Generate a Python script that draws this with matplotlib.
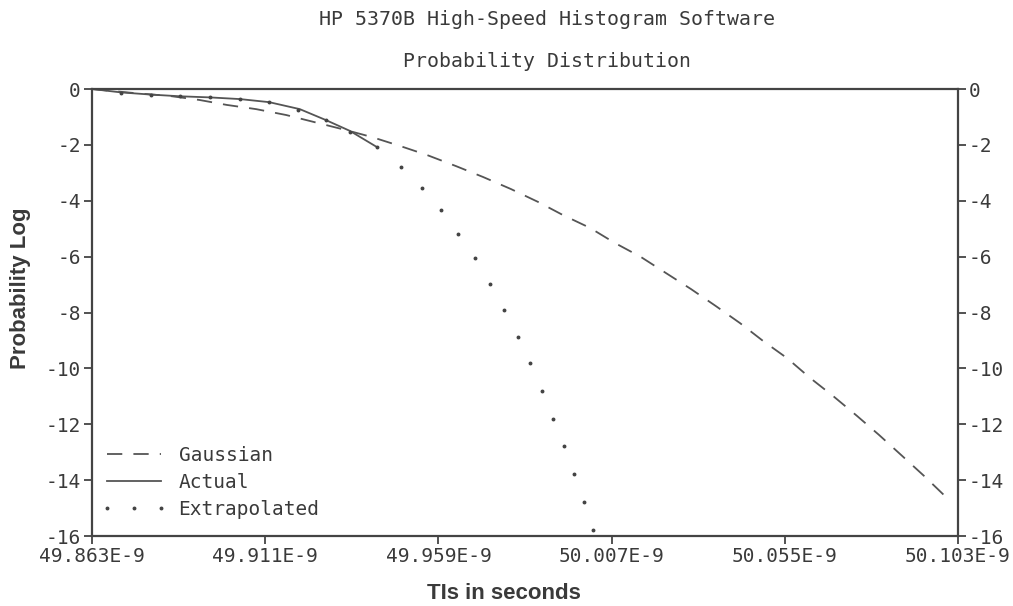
import matplotlib
matplotlib.use("Agg")
import matplotlib.pyplot as plt
from matplotlib.lines import Line2D

# time in ns, probability as log10
gauss_x = [49.8630, 49.8735, 49.8846, 49.8927, 49.9004, 49.9085, 49.9168, 49.9245,
           49.9334, 49.9406, 49.9484, 49.9558, 49.9639, 49.9714, 49.9791, 49.9866,
           49.9935, 50.0010, 50.0079, 50.0151, 50.0221, 50.0290, 50.0359, 50.0426,
           50.0490, 50.0556, 50.0620, 50.0684, 50.0750, 50.0811, 50.0875, 50.0936,
           50.0994, 50.1008]
gauss_y = [0.0, -0.13, -0.25, -0.39, -0.57, -0.72, -0.93, -1.18,
           -1.47, -1.72, -2.04, -2.36, -2.76, -3.15, -3.58, -4.04,
           -4.51, -4.97, -5.51, -6.01, -6.59, -7.16, -7.77, -8.38,
           -9.02, -9.63, -10.34, -10.99, -11.70, -12.38, -13.13, -13.85,
           -14.57, -14.71]

actual_x = [49.8630, 49.8710, 49.8794, 49.8874, 49.8957, 49.9040, 49.9121,
            49.9206, 49.9278, 49.9345, 49.9420]
actual_y = [0.0, -0.12, -0.20, -0.26, -0.30, -0.36, -0.47, -0.72, -1.11, -1.50, -2.08]

extrap_x = [49.8710, 49.8794, 49.8874, 49.8957, 49.9040, 49.9121, 49.9201, 49.9278,
            49.9345, 49.9420, 49.9486, 49.9544, 49.9596, 49.9645, 49.9691, 49.9734,
            49.9772, 49.9810, 49.9845, 49.9877, 49.9908, 49.9938, 49.9967, 49.9993,
            50.0019]
extrap_y = [-0.15, -0.22, -0.26, -0.28, -0.35, -0.46, -0.75, -1.11,
            -1.55, -2.08, -2.78, -3.53, -4.33, -5.18, -6.06, -6.97,
            -7.91, -8.87, -9.82, -10.81, -11.80, -12.79, -13.78, -14.79,
            -15.78]

x_ticks = [49.863, 49.911, 49.959, 50.007, 50.055, 50.103]
x_labels = ["49.863E-9", "49.911E-9", "49.959E-9", "50.007E-9", "50.055E-9", "50.103E-9"]
y_ticks = [0, -2, -4, -6, -8, -10, -12, -14, -16]
y_labels = ["0", "-2", "-4", "-6", "-8", "-10", "-12", "-14", "-16"]

plt.rcParams['axes.unicode_minus'] = False
plt.rcParams['lines.scale_dashes'] = False

ink = '#3a3a3a'
mono = 'DejaVu Sans Mono'

fig = plt.figure(figsize=(10.13, 6.06), dpi=100)
ax = fig.add_axes([0.0908, 0.1155, 0.8549, 0.7376])

ax.plot(gauss_x, gauss_y, color='#555555', lw=1.3, dashes=(11, 8), label='Gaussian')
ax.plot(actual_x, actual_y, color='#555555', lw=1.3, label='Actual')
ax.plot(extrap_x, extrap_y, ls='none', marker='o', ms=1.8, color='#444444', label='Extrapolated')

ax.set_xlim(x_ticks[0], x_ticks[-1])
ax.set_ylim(-16, 0)
ax.set_xticks(x_ticks)
ax.set_xticklabels(x_labels)
ax.set_yticks(y_ticks)
ax.set_yticklabels(y_labels)

for s in ax.spines.values():
    s.set_color('#444444')
    s.set_linewidth(1.6)

ax.tick_params(axis='both', direction='out', length=6, width=1.3, color='#444444',
               labelcolor=ink, labelsize=14, pad=2)
ax.tick_params(axis='y', right=True, labelright=True)
for lab in ax.get_xticklabels() + ax.get_yticklabels():
    lab.set_family(mono)

ax.set_xlabel('TIs in seconds', fontsize=16, fontweight='bold', color=ink,
              family='Liberation Sans')
ax.set_ylabel('Probability Log', fontsize=16, fontweight='bold', color=ink,
              family='Liberation Sans')
ax.xaxis.set_label_coords(0.476, -0.128)
ax.yaxis.set_label_coords(-0.083, 0.555)
ax.xaxis.label.set_va('center')
ax.yaxis.label.set_va('center')

fig.text(0.54, 0.968, 'HP 5370B High-Speed Histogram Software', ha='center', va='center',
         fontsize=14.3, family=mono, color=ink)
fig.text(0.54, 0.898, 'Probability Distribution', ha='center', va='center',
         fontsize=14.3, family=mono, color=ink)

handles = [
    Line2D([], [], color='#555555', lw=1.3, dashes=(11, 8)),
    Line2D([], [], color='#555555', lw=1.3),
    Line2D([], [], ls='none', marker='o', ms=1.8, color='#444444'),
]
leg = ax.legend(handles, ['Gaussian', 'Actual', 'Extrapolated'], loc='lower left',
                bbox_to_anchor=(0.0, 0.018), frameon=False, numpoints=3,
                handlelength=3.4, handletextpad=0.6, labelspacing=0.42,
                prop={'family': mono, 'size': 14}, borderaxespad=0.05)
for t in leg.get_texts():
    t.set_color(ink)

fig.savefig('out.png', dpi=100, facecolor='white')
